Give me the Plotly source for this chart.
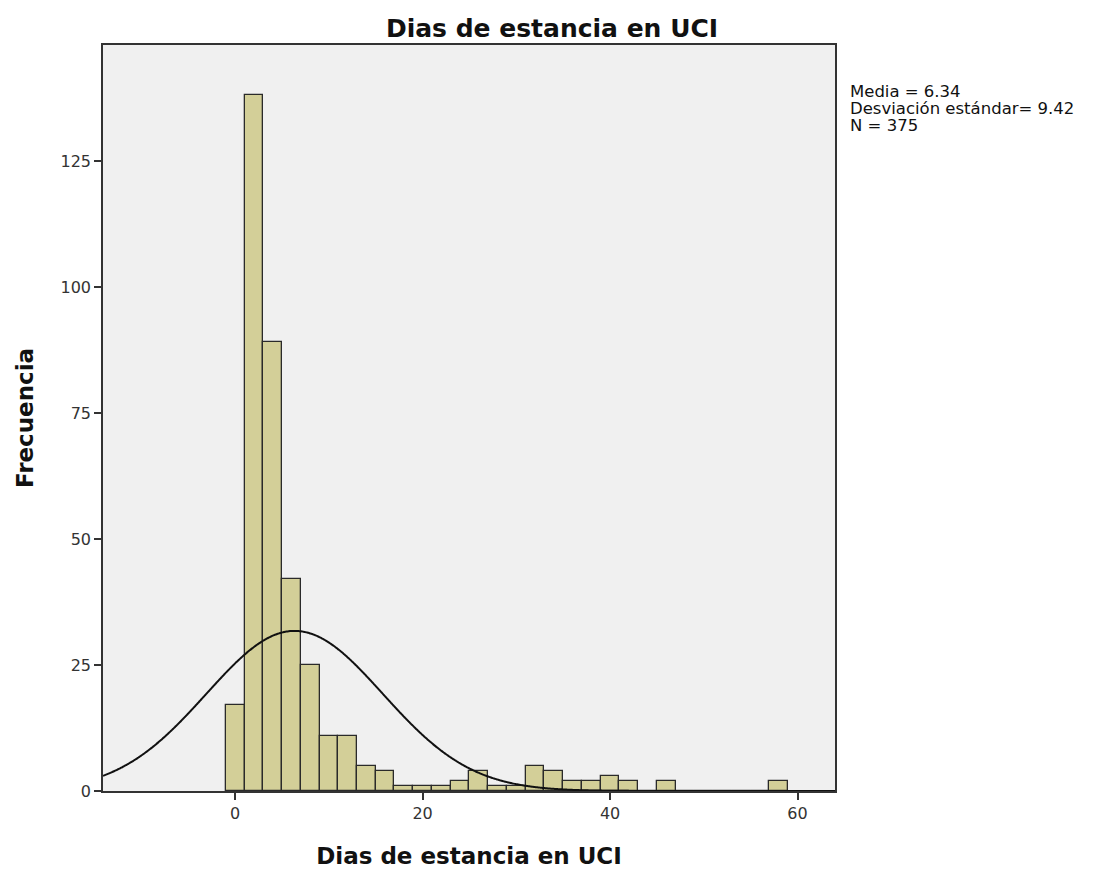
import numpy as np
import plotly.graph_objects as go

# Histogram bins (bin centers, width 2 days) and counts
bin_centers = [0, 2, 4, 6, 8, 10, 12, 14, 16, 18, 20, 22, 24, 26, 28, 30, 32, 34, 36, 38, 40, 42, 44, 46, 48, 50, 52, 54, 56, 58]
counts      = [17, 138, 89, 42, 25, 11, 11, 5, 4, 1, 1, 1, 2, 4, 1, 1, 5, 4, 2, 2, 3, 2, 0, 2, 0, 0, 0, 0, 0, 2]
bin_width = 2

mean_val = 6.34
sd_val = 9.42
n_val = 375

x_ticks = [0, 20, 40, 60]
y_ticks = [0, 25, 50, 75, 100, 125]

stats_lines = [f"Media = {mean_val}", f"Desviación estándar= {sd_val}", f"N = {n_val}"]

# Fitted normal curve scaled to counts (as SPSS draws it)
xc = np.linspace(-14.1, 64, 600)
yc = n_val * bin_width * np.exp(-0.5 * ((xc - mean_val) / sd_val) ** 2) / (sd_val * np.sqrt(2 * np.pi))

fig = go.Figure()
fig.add_trace(go.Bar(
    x=bin_centers, y=counts, width=bin_width,
    marker=dict(color="#d3cf98", line=dict(color="#2a2a2a", width=1.3)),
    hoverinfo="x+y", showlegend=False,
))
fig.add_trace(go.Scatter(
    x=xc, y=yc, mode="lines", line=dict(color="#111111", width=2, shape="spline"),
    showlegend=False, hoverinfo="skip",
))

font_family = "DejaVu Sans"
plot_top, plot_bottom, plot_left, plot_right = 45, 791, 103, 835
ph = plot_bottom - plot_top
pw = plot_right - plot_left

annotations = []
for i, line in enumerate(stats_lines):
    ycenter = 91 + i * 17.5
    annotations.append(dict(
        xref="paper", yref="paper", x=(848 - plot_left) / pw, y=(plot_bottom - ycenter) / ph,
        xanchor="left", yanchor="middle", align="left", showarrow=False,
        text=line, font=dict(size=16.5, color="#111111", family=font_family),
    ))

fig.update_layout(
    width=1094, height=871,
    margin=dict(l=plot_left, r=1094 - plot_right, t=plot_top, b=871 - plot_bottom),
    paper_bgcolor="white",
    plot_bgcolor="#f0f0f0",
    bargap=0,
    font=dict(family=font_family, color="#333333"),
    title=dict(text="<b>Dias de estancia en UCI</b>", x=552 / 1094, xanchor="center",
               y=1 - 28 / 871, yanchor="middle", font=dict(size=25, color="#111111", family=font_family)),
    xaxis=dict(
        range=[-14.1, 64], tickvals=x_ticks, ticks="outside", ticklen=7, tickwidth=1.5, tickcolor="#333333",
        showgrid=False, zeroline=False, showline=True, linecolor="#333333", linewidth=1.5, mirror=True,
        tickfont=dict(size=16, color="#333333"), automargin=False,
        title=dict(text="<b>Dias de estancia en UCI</b>", font=dict(size=23, color="#111111"), standoff=26),
    ),
    yaxis=dict(
        range=[0, 148], tickvals=y_ticks, ticks="outside", ticklen=7, tickwidth=1.5, tickcolor="#333333",
        showgrid=False, zeroline=False, showline=True, linecolor="#333333", linewidth=1.5, mirror=True,
        tickfont=dict(size=16, color="#333333"), automargin=False,
        title=dict(text="<b>Frecuencia</b>", font=dict(size=23, color="#111111"), standoff=20),
    ),
    annotations=annotations,
)

fig.write_html("out.html")
